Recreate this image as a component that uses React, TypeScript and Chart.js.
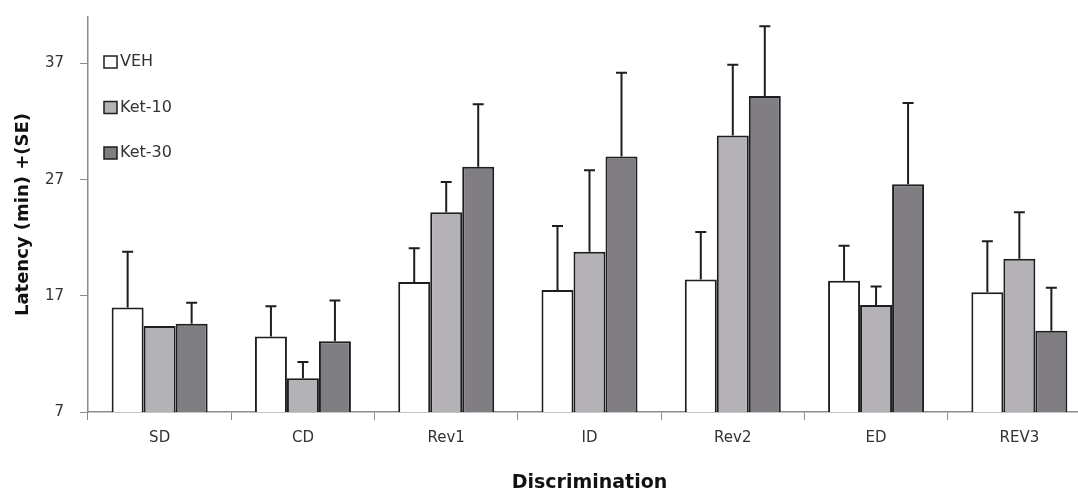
import React, { useEffect, useRef } from "react";
import { Chart, registerables } from "chart.js";

Chart.register(...registerables);

const categories = ["SD", "CD", "Rev1", "ID", "Rev2", "ED", "REV3"];
const seriesNames = ["VEH", "Ket-10", "Ket-30"];
const vehMeans = [16.0, 13.5, 18.2, 17.5, 18.4, 18.3, 17.3];
const vehSE = [4.8, 2.6, 2.9, 5.5, 4.1, 3.0, 4.4];
const ket10Means = [14.4, 9.9, 24.2, 20.8, 30.8, 16.2, 20.2];
const ket10SE = [0, 1.4, 2.6, 7.0, 6.1, 1.6, 4.0];
const ket30Means = [14.6, 13.1, 28.1, 29.0, 34.2, 26.6, 14.0];
const ket30SE = [1.8, 3.5, 5.4, 7.2, 6.0, 7.0, 3.7];
const yTicks = [7, 17, 27, 37];
const yMin = 7;
const yMax = 41;

const seriesColors = ["#ffffff", "#b4b2b6", "#807e83"];
const FONT = "'DejaVu Sans', sans-serif";

const errorBarPlugin = {
  id: "errorBars",
  afterDatasetsDraw(chart: any) {
    const ctx = chart.ctx;
    const yScale = chart.scales.y;
    chart.data.datasets.forEach((ds: any, i: number) => {
      const meta = chart.getDatasetMeta(i);
      meta.data.forEach((bar: any, j: number) => {
        const e = ds.errors[j];
        if (!e) return;
        const top = yScale.getPixelForValue(ds.data[j] + e);
        ctx.save();
        ctx.strokeStyle = "#1e1e1e";
        ctx.lineWidth = 2;
        ctx.beginPath();
        ctx.moveTo(bar.x, bar.y);
        ctx.lineTo(bar.x, top);
        ctx.moveTo(bar.x - 5.5, top);
        ctx.lineTo(bar.x + 5.5, top);
        ctx.stroke();
        ctx.restore();
      });
    });
  },
};

const legendPlugin = {
  id: "insideLegend",
  afterDraw(chart: any) {
    const ctx = chart.ctx;
    const area = chart.chartArea;
    const x0 = area.left + 16;
    const yFirst = area.top + 45;
    const gap = 45.5;
    ctx.save();
    chart.data.datasets.forEach((ds: any, i: number) => {
      const cy = yFirst + i * gap;
      ctx.fillStyle = ds.backgroundColor;
      ctx.fillRect(x0, cy - 6, 13, 12);
      ctx.strokeStyle = "#1e1e1e";
      ctx.lineWidth = 1.5;
      ctx.strokeRect(x0, cy - 6, 13, 12);
      ctx.fillStyle = "#333333";
      ctx.font = `16px ${FONT}`;
      ctx.textBaseline = "middle";
      ctx.textAlign = "left";
      ctx.fillText(ds.label, x0 + 16, cy);
    });
    ctx.restore();
  },
};

export default function App() {
  const ref = useRef<HTMLCanvasElement | null>(null);

  useEffect(() => {
    if (!ref.current) return;
    const means = [vehMeans, ket10Means, ket30Means];
    const errs = [vehSE, ket10SE, ket30SE];
    const chart = new Chart(ref.current, {
      type: "bar",
      data: {
        labels: categories,
        datasets: seriesNames.map((name, i) => ({
          label: name,
          data: means[i],
          errors: errs[i],
          backgroundColor: seriesColors[i],
          borderColor: "#1e1e1e",
          borderWidth: 2,
          categoryPercentage: 0.67,
          barPercentage: 1.0,
        })) as any,
      },
      options: {
        responsive: false,
        animation: false,
        devicePixelRatio: 1,
        layout: { padding: { top: 17, right: 19, left: 0, bottom: 0 } },
        plugins: { legend: { display: false }, tooltip: { enabled: false } },
        scales: {
          x: {
            grid: {
              display: true,
              drawOnChartArea: false,
              drawTicks: true,
              tickLength: 8,
              color: "#8c8c8c",
              offset: true,
            },
            border: { display: true, color: "#8c8c8c", width: 1.5 },
            ticks: {
              color: "#333333",
              font: { family: FONT, size: 15 },
              padding: 9,
              maxRotation: 0,
            },
            title: {
              display: true,
              text: "Discrimination",
              color: "#111111",
              font: { family: FONT, size: 19, weight: "bold" },
              padding: { top: 0, bottom: 0 },
            },
            afterFit: (s: any) => {
              s.height = 82;
              s.paddingLeft = 0;
              s.paddingRight = 0;
            },
          },
          y: {
            min: yMin,
            max: yMax,
            afterBuildTicks: (s: any) => {
              s.ticks = yTicks.map((v) => ({ value: v }));
            },
            grid: {
              drawOnChartArea: false,
              drawTicks: true,
              tickLength: 8,
              color: "#8c8c8c",
            },
            border: { display: true, color: "#8c8c8c", width: 1.5 },
            ticks: {
              color: "#333333",
              font: { family: FONT, size: 15 },
              padding: 16,
            },
            title: {
              display: true,
              text: "Latency (min) +(SE)",
              color: "#111111",
              font: { family: FONT, size: 18, weight: "bold" },
              padding: { top: 13, bottom: 0 },
            },
            afterFit: (s: any) => {
              s.width = 88;
              s.paddingTop = 0;
              s.paddingBottom = 0;
            },
          },
        },
      },
      plugins: [errorBarPlugin, legendPlugin],
    } as any);
    return () => chart.destroy();
  }, []);

  return (
    <div
      style={{
        position: "fixed",
        left: 0,
        top: 0,
        width: 1078,
        height: 494,
        overflow: "hidden",
        background: "#ffffff",
      }}
    >
      <canvas ref={ref} width={1110} height={494} style={{ display: "block" }} />
    </div>
  );
}
